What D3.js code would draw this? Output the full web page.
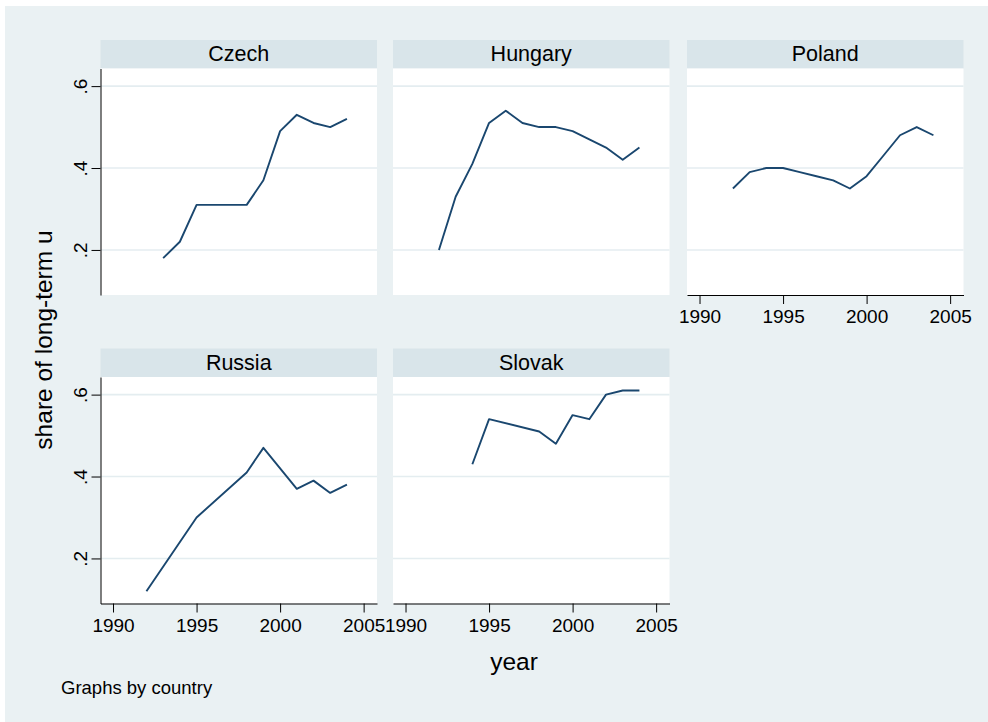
<!DOCTYPE html>
<html>
<head>
<meta charset="utf-8">
<script src="https://cdn.jsdelivr.net/npm/d3@7"></script>
<style>
  html, body { margin: 0; padding: 0; background: #ffffff; }
  svg { display: block; font-family: "Liberation Sans", Arial, sans-serif; }
</style>
</head>
<body>
<svg id="chart" width="988" height="722"></svg>
<script>
// values
const countries = ["Czech", "Hungary", "Poland", "Russia", "Slovak"]

const czechYears = [1993, 1994, 1995, 1996, 1997, 1998, 1999, 2000, 2001, 2002, 2003, 2004]
const czechShare = [0.18, 0.22, 0.31, 0.31, 0.31, 0.31, 0.37, 0.49, 0.53, 0.51, 0.50, 0.52]

const hungaryYears = [1992, 1993, 1994, 1995, 1996, 1997, 1998, 1999, 2000, 2001, 2002, 2003, 2004]
const hungaryShare = [0.20, 0.33, 0.41, 0.51, 0.54, 0.51, 0.50, 0.50, 0.49, 0.47, 0.45, 0.42, 0.45]

const polandYears = [1992, 1993, 1994, 1995, 1996, 1997, 1998, 1999, 2000, 2001, 2002, 2003, 2004]
const polandShare = [0.35, 0.39, 0.40, 0.40, 0.39, 0.38, 0.37, 0.35, 0.38, 0.43, 0.48, 0.50, 0.48]

const russiaYears = [1992, 1995, 1998, 1999, 2001, 2002, 2003, 2004]
const russiaShare = [0.12, 0.30, 0.41, 0.47, 0.37, 0.39, 0.36, 0.38]

const slovakYears = [1994, 1995, 1998, 1999, 2000, 2001, 2002, 2003, 2004]
const slovakShare = [0.43, 0.54, 0.51, 0.48, 0.55, 0.54, 0.60, 0.61, 0.61]

const xTicks = [1990, 1995, 2000, 2005]
const yTicks = [0.2, 0.4, 0.6]
const yTickLabels = [".2", ".4", ".6"]

const series = [
  [czechYears, czechShare],
  [hungaryYears, hungaryShare],
  [polandYears, polandShare],
  [russiaYears, russiaShare],
  [slovakYears, slovakShare]
]

// layout
const colLeft = [100.5, 393, 687]
const rowTop = [40, 348.5]
const panelW = 276.5
const stripH = 28.5
const plotH = 226.5

const navy = "#1a476f"
const bg = "#eaf1f3"
const strip = "#d9e5ea"
const grid = "#e4edf0"

const svg = d3.select("#chart")

svg.append("rect")
    .attr("x", 5).attr("y", 6)
    .attr("width", 983).attr("height", 716)
    .attr("fill", bg)

const x = d3.scaleLinear().domain([1989.25, 2005.8]).range([0, panelW])
const y = d3.scaleLinear().domain([0.09, 0.643]).range([plotH, 0])

const line = d3.line()
    .x(d => x(d[0]))
    .y(d => y(d[1]))

countries.forEach((name, i) => {
    const col = i % 3
    const row = Math.floor(i / 3)
    const g = svg.append("g")
        .attr("transform", `translate(${colLeft[col]},${rowTop[row]})`)

    // title strip
    g.append("rect")
        .attr("width", panelW).attr("height", stripH)
        .attr("fill", strip)
    g.append("text")
        .attr("x", panelW / 2).attr("y", 21)
        .attr("text-anchor", "middle")
        .attr("font-size", 21.5)
        .text(name)

    const p = g.append("g").attr("transform", `translate(0,${stripH})`)
    p.append("rect")
        .attr("width", panelW).attr("height", plotH)
        .attr("fill", "#ffffff")

    p.append("g")
        .selectAll("line")
        .data(yTicks)
        .join("line")
        .attr("x1", 0).attr("x2", panelW)
        .attr("y1", d => y(d)).attr("y2", d => y(d))
        .attr("stroke", grid)
        .attr("stroke-width", 1.6)

    const pts = series[i][0].map((yr, k) => [yr, series[i][1][k]])
    p.append("path")
        .datum(pts)
        .attr("fill", "none")
        .attr("stroke", navy)
        .attr("stroke-width", 1.9)
        .attr("stroke-linejoin", "round")
        .attr("d", line)

    if (col === 0) {
        const yAxis = p.append("g")
            .call(d3.axisLeft(y).tickValues(yTicks).tickSize(9).tickSizeOuter(0)
                .tickFormat((d, k) => yTickLabels[k]))
        yAxis.select(".domain").attr("stroke", "#000")
        yAxis.selectAll(".tick line").attr("stroke", "#000")
        yAxis.selectAll("text")
            .attr("x", null).attr("dy", null)
            .attr("text-anchor", "middle")
            .attr("transform", "translate(-14,0) rotate(-90)")
            .attr("font-size", 19)
            .attr("font-family", null)
            .attr("fill", "#000")
    }

    // last panel in each column gets the x axis
    if (i >= 2) {
        const xAxis = p.append("g")
            .attr("transform", `translate(0,${plotH})`)
            .call(d3.axisBottom(x).tickValues(xTicks).tickSize(9).tickSizeOuter(0)
                .tickPadding(6).tickFormat(d3.format("d")))
        xAxis.select(".domain").attr("stroke", "#000")
        xAxis.selectAll(".tick line").attr("stroke", "#000")
        xAxis.selectAll("text")
            .attr("font-size", 19)
            .attr("font-family", null)
            .attr("fill", "#000")
    }
})

svg.append("text")
    .attr("transform", "translate(52,340) rotate(-90)")
    .attr("text-anchor", "middle")
    .attr("font-size", 24.5)
    .text("share of long-term u")

svg.append("text")
    .attr("x", 514).attr("y", 670)
    .attr("text-anchor", "middle")
    .attr("font-size", 24.5)
    .text("year")

svg.append("text")
    .attr("x", 61).attr("y", 694)
    .attr("font-size", 18.5)
    .text("Graphs by country")
</script>
</body>
</html>
